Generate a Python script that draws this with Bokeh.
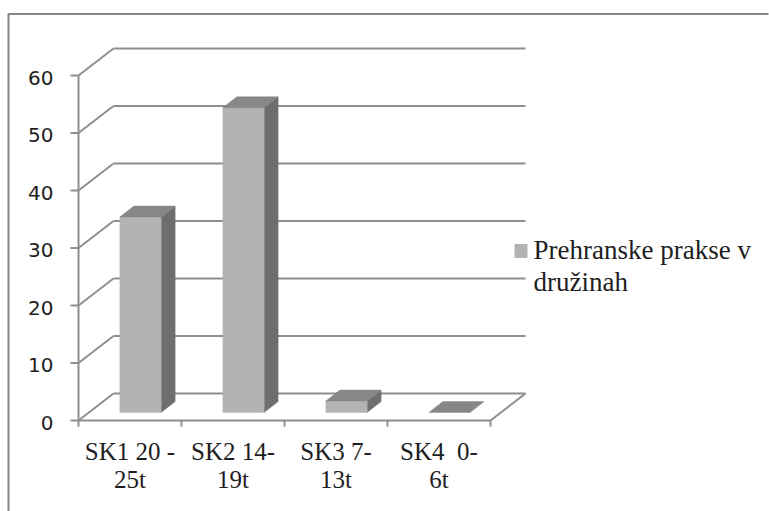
from bokeh.plotting import figure
from bokeh.models import Range1d
from bokeh.embed import file_html
from bokeh.resources import INLINE
from bokeh.core.properties import value

# --- data -------------------------------------------------------------------
categories = ["SK1 20 -\n25t", "SK2 14-\n19t", "SK3 7-\n13t", "SK4\u00a0 0-\n6t"]
values = [34, 53, 2, 0]
y_ticks = [0, 10, 20, 30, 40, 50, 60]
series_name = "Prehranske prakse v\ndružinah"

# --- layout / projection ----------------------------------------------------
W, H = 769, 511
ORIGIN_X, ORIGIN_Y = 78, 420      # pixel position of (category 0, value 0) on the front plane
CAT_PX = 103                      # pixels per category slot
UNIT_PX = 5.75                    # pixels per value unit
DEPTH_PX = (35, 27)               # oblique offset of the back wall (right, up)

FRONT = "#b3b3b3"
TOP = "#878787"
SIDE = "#6e6e6e"
GRID = "#8e8e8e"
TEXT = "#1e1e1e"


def sx(px):
    return (px - ORIGIN_X) / CAT_PX


def sy(py):
    return (ORIGIN_Y - py) / UNIT_PX


DX = DEPTH_PX[0] / CAT_PX
DY = DEPTH_PX[1] / UNIT_PX


def proj(x, v, d):
    return x + d * DX, v + d * DY


n = len(categories)
vmax = y_ticks[-1]

p = figure(width=W, height=H,
           x_range=Range1d(sx(0), sx(W)), y_range=Range1d(sy(H), sy(0)),
           x_axis_location=None, y_axis_location=None,
           output_backend="svg", toolbar_location=None, min_border=0)
p.grid.visible = False
p.outline_line_color = None
p.background_fill_color = "white"
p.border_fill_color = "white"

# chart area border
p.line(x=[sx(8), sx(8), sx(768)], y=[sy(511), sy(13.5), sy(13.5)],
       line_color="#868686", line_width=2)

# back wall gridlines
bx0, _ = proj(0, 0, 1)
bx1, _ = proj(n, 0, 1)
p.multi_line(xs=[[bx0, bx1] for _ in y_ticks],
             ys=[[proj(0, t, 1)[1]] * 2 for t in y_ticks],
             line_color=GRID, line_width=2)

# left wall diagonals
p.multi_line(xs=[[0, DX] for _ in y_ticks],
             ys=[[t, t + DY] for t in y_ticks],
             line_color=GRID, line_width=2)

# floor right edge, front axis lines
p.multi_line(xs=[[n, n + DX], [0, n], [0, 0]],
             ys=[[0, DY], [0, 0], [0, vmax]],
             line_color=GRID, line_width=2)

# tick marks
p.multi_line(xs=[[sx(70), 0] for _ in y_ticks],
             ys=[[t, t] for t in y_ticks],
             line_color=GRID, line_width=2)
p.multi_line(xs=[[i, i] for i in range(n + 1)],
             ys=[[0, sy(426)] for _ in range(n + 1)],
             line_color=GRID, line_width=2)

# 3D bars
BW, D0, D1 = 0.4, 0.3, 0.7
fx, fy, tx, ty, rx, ry = [], [], [], [], [], []
for i, v in enumerate(values):
    xl, xr = i + 0.5 - BW / 2, i + 0.5 + BW / 2
    front = [proj(xl, 0, D0), proj(xr, 0, D0), proj(xr, v, D0), proj(xl, v, D0)]
    top = [proj(xl, v, D0), proj(xr, v, D0), proj(xr, v, D1), proj(xl, v, D1)]
    side = [proj(xr, 0, D0), proj(xr, 0, D1), proj(xr, v, D1), proj(xr, v, D0)]
    if v > 0:
        fx.append([a for a, _ in front]); fy.append([b for _, b in front])
        rx.append([a for a, _ in side]); ry.append([b for _, b in side])
    tx.append([a for a, _ in top]); ty.append([b for _, b in top])

p.patches(xs=rx, ys=ry, fill_color=SIDE, line_color=SIDE, line_width=0.5)
p.patches(xs=fx, ys=fy, fill_color=FRONT, line_color=FRONT, line_width=0.5)
p.patches(xs=tx, ys=ty, fill_color=TOP, line_color=TOP, line_width=0.5)

# value axis labels
label_dy = 2 / UNIT_PX
p.text(x=[sx(53)] * len(y_ticks), y=[t - label_dy for t in y_ticks],
       text=[str(t) for t in y_ticks],
       text_align="right", text_baseline="middle",
       text_font=value("DejaVu Sans"), text_font_size="20px", text_color=TEXT)

# category labels (two lines each)
rows = [c.split("\n") for c in categories]
for k, mid in enumerate([450.5, 478.5]):
    p.text(x=[i + 0.5 for i in range(n)], y=[sy(mid)] * n,
           text=[r[k] for r in rows],
           text_align="center", text_baseline="middle",
           text_font=value("Liberation Serif"), text_font_size="25px",
           text_color=TEXT)

# legend
p.quad(left=[sx(514)], right=[sx(527)], top=[sy(243.5)], bottom=[sy(257.5)],
       fill_color=FRONT, line_color=None)
leg_lines = series_name.split("\n")
p.text(x=[sx(533)] * len(leg_lines), y=[sy(249), sy(281.5)], text=leg_lines,
       text_align="left", text_baseline="middle",
       text_font=value("Liberation Serif"), text_font_size="27px",
       text_color=TEXT)

open("out.html", "w").write(file_html(p, INLINE))
